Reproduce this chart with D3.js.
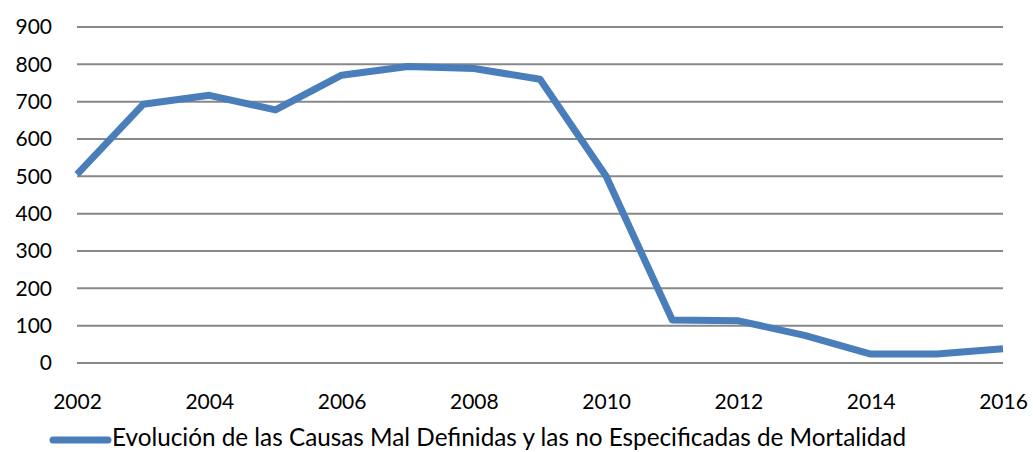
<!DOCTYPE html>
<html>
<head>
<meta charset="utf-8">
<script src="https://cdn.jsdelivr.net/npm/d3@7"></script>
<style>
  body { margin: 0; background: #fff; }
  text { font-family: Lato, "Open Sans", sans-serif; fill: #000; }
</style>
</head>
<body>
<svg id="chart" width="1033" height="452"></svg>
<script>
// data
const years = [2002, 2003, 2004, 2005, 2006, 2007, 2008, 2009, 2010, 2011, 2012, 2013, 2014, 2015, 2016];
const values = [505, 693, 717, 678, 771, 794, 789, 760, 500, 115, 113, 74, 24, 24, 38];
const yTicks = [0, 100, 200, 300, 400, 500, 600, 700, 800, 900];
const xTicks = [2002, 2004, 2006, 2008, 2010, 2012, 2014, 2016];
const seriesName = 'Evolución de las Causas Mal Definidas y las no Especificadas de Mortalidad';

const svg = d3.select('#chart');

const x = d3.scaleLinear().domain([2002, 2016]).range([77, 1003]);
const y = d3.scaleLinear().domain([0, 900]).range([363, 27]);

// horizontal grid
svg.append('g')
  .selectAll('line')
  .data(yTicks)
  .join('line')
  .attr('x1', x(2002))
  .attr('x2', x(2016))
  .attr('y1', d => y(d))
  .attr('y2', d => y(d))
  .attr('stroke', '#888')
  .attr('stroke-width', 2);

// y labels
const yAxis = d3.axisLeft(y).tickValues(yTicks).tickSize(0).tickPadding(0);
svg.append('g')
  .attr('transform', 'translate(52,0)')
  .call(yAxis)
  .call(g => g.select('.domain').remove())
  .selectAll('text')
  .style('font-size', '21px')
  .attr('fill', '#000');

// x labels
const xAxis = d3.axisBottom(x).tickValues(xTicks).tickFormat(d3.format('d')).tickSize(0).tickPadding(0);
svg.append('g')
  .attr('transform', 'translate(0,394)')
  .call(xAxis)
  .call(g => g.select('.domain').remove())
  .selectAll('text')
  .style('font-size', '21px')
  .attr('fill', '#000');

// series line
const line = d3.line()
  .x((d, i) => x(years[i]))
  .y(d => y(d));

svg.append('path')
  .datum(values)
  .attr('d', line)
  .attr('fill', 'none')
  .attr('stroke', '#4a7ebb')
  .attr('stroke-width', 7)
  .attr('stroke-linejoin', 'round')
  .attr('stroke-linecap', 'butt');

// legend, kept just inside the bottom edge
const legend = svg.append('g').attr('transform', 'translate(53,440)');
legend.append('line')
  .attr('x1', 0).attr('x2', 55)
  .attr('stroke', '#4a7ebb')
  .attr('stroke-width', 7)
  .attr('stroke-linecap', 'round');
legend.append('text')
  .attr('x', 59)
  .attr('y', 6)
  .style('font-size', '24.3px')
  .text(seriesName);
</script>
</body>
</html>
